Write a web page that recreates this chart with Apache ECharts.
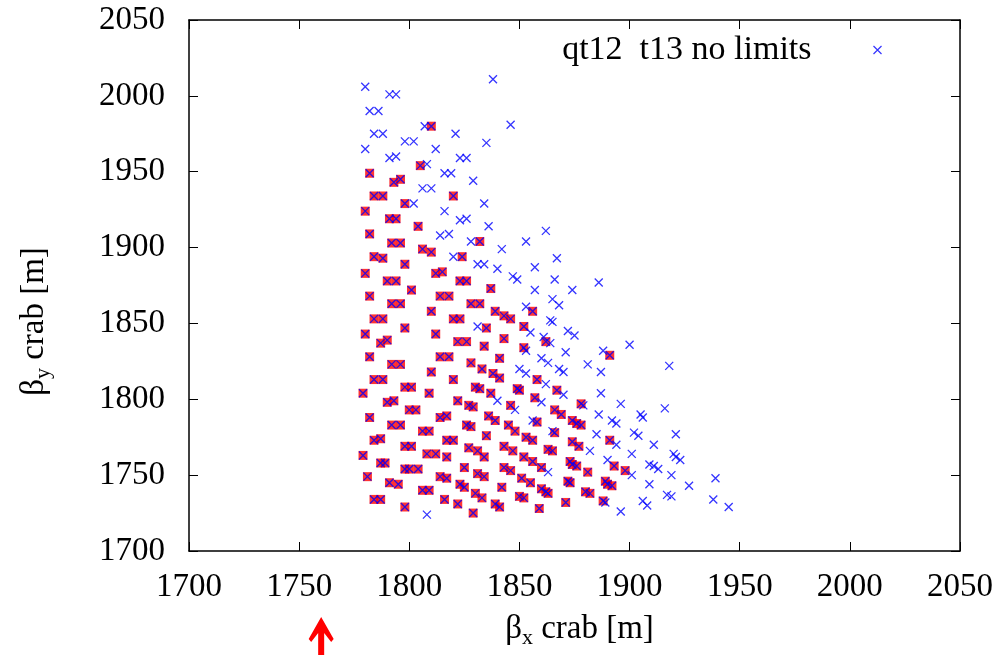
<!DOCTYPE html>
<html><head><meta charset="utf-8">
<script src="https://cdn.jsdelivr.net/npm/echarts@6/dist/echarts.min.js"></script>
<style>html,body{margin:0;padding:0;background:#fff}#c{width:1001px;height:655px}</style>
</head><body><div id="c"></div>
<script>
// points that also satisfy the limits (drawn red, underneath the blue crosses)
const limitedPoints = [[1810,1980],[1805,1954],[1782,1949],[1793,1943],[1796,1945],[1784,1934],[1788,1934],[1820,1934],[1798,1929],[1780,1924],[1791,1919],[1794,1919],[1804,1914],[1782,1909],[1792,1903],[1796,1903],[1832,1904],[1806,1899],[1810,1897],[1784,1894],[1788,1893],[1824,1894],[1798,1889],[1780,1883],[1812,1883],[1815,1884],[1790,1878],[1794,1878],[1823,1878],[1826,1878],[1801,1872],[1837,1873],[1782,1868],[1814,1868],[1818,1868],[1792,1863],[1796,1863],[1828,1863],[1832,1863],[1856,1858],[1810,1858],[1839,1858],[1843,1855],[1846,1853],[1784,1853],[1788,1853],[1820,1853],[1823,1853],[1798,1847],[1835,1847],[1852,1848],[1780,1843],[1812,1843],[1787,1837],[1790,1839],[1822,1838],[1826,1838],[1843,1840],[1862,1838],[1834,1835],[1852,1834],[1891,1829],[1782,1828],[1814,1828],[1818,1828],[1841,1827],[1792,1823],[1796,1823],[1828,1824],[1833,1820],[1810,1818],[1838,1817],[1841,1814],[1784,1813],[1788,1813],[1820,1813],[1858,1813],[1798,1808],[1801,1808],[1830,1808],[1832,1807],[1849,1807],[1850,1806],[1867,1806],[1779,1804],[1809,1804],[1837,1804],[1790,1798],[1793,1799],[1857,1801],[1822,1799],[1827,1796],[1829,1795],[1878,1797],[1800,1793],[1803,1793],[1846,1796],[1782,1788],[1814,1788],[1817,1789],[1836,1789],[1839,1786],[1858,1785],[1866,1793],[1869,1790],[1792,1783],[1796,1783],[1826,1783],[1828,1782],[1845,1783],[1848,1779],[1874,1786],[1876,1784],[1878,1783],[1806,1779],[1809,1779],[1835,1776],[1853,1775],[1856,1773],[1866,1778],[1784,1773],[1787,1774],[1817,1773],[1820,1773],[1874,1772],[1877,1769],[1891,1773],[1798,1769],[1801,1769],[1827,1768],[1843,1769],[1847,1766],[1863,1767],[1865,1766],[1779,1763],[1808,1764],[1812,1764],[1831,1766],[1834,1762],[1852,1762],[1856,1759],[1817,1762],[1873,1759],[1874,1757],[1876,1756],[1787,1758],[1789,1758],[1798,1754],[1800,1754],[1804,1754],[1825,1755],[1843,1755],[1846,1753],[1860,1755],[1893,1756],[1898,1753],[1881,1752],[1831,1751],[1834,1749],[1781,1749],[1814,1749],[1817,1748],[1851,1748],[1855,1745],[1872,1746],[1873,1745],[1889,1746],[1890,1744],[1892,1743],[1791,1745],[1795,1744],[1823,1744],[1825,1742],[1842,1742],[1860,1741],[1862,1739],[1863,1738],[1880,1739],[1882,1738],[1806,1740],[1809,1740],[1830,1738],[1833,1735],[1850,1736],[1852,1735],[1784,1734],[1787,1734],[1816,1734],[1839,1731],[1841,1729],[1822,1731],[1798,1729],[1859,1728],[1871,1732],[1888,1733],[1829,1725]];
// remaining points of the "no limits" scan
const otherPoints = [[1780,2006],[1791,2001],[1794,2001],[1782,1990],[1786,1990],[1838,2011],[1807,1980],[1846,1981],[1821,1975],[1784,1975],[1788,1975],[1798,1970],[1802,1970],[1835,1969],[1780,1965],[1812,1965],[1791,1959],[1794,1960],[1823,1959],[1826,1959],[1808,1955],[1816,1949],[1819,1949],[1829,1944],[1806,1939],[1810,1939],[1802,1929],[1834,1929],[1816,1924],[1823,1918],[1826,1919],[1836,1914],[1814,1908],[1818,1909],[1862,1911],[1828,1904],[1853,1904],[1842,1899],[1820,1894],[1867,1893],[1831,1889],[1834,1889],[1840,1886],[1857,1887],[1847,1881],[1849,1879],[1866,1879],[1886,1877],[1857,1872],[1874,1872],[1865,1866],[1868,1862],[1853,1861],[1864,1852],[1865,1851],[1831,1848],[1855,1844],[1872,1845],[1875,1842],[1861,1841],[1864,1837],[1900,1836],[1853,1832],[1888,1832],[1871,1831],[1860,1827],[1863,1824],[1881,1823],[1918,1822],[1868,1820],[1870,1818],[1887,1818],[1850,1820],[1853,1817],[1862,1810],[1870,1803],[1887,1804],[1840,1799],[1860,1798],[1879,1796],[1896,1797],[1916,1794],[1848,1793],[1856,1786],[1905,1790],[1906,1788],[1886,1790],[1892,1786],[1894,1784],[1865,1779],[1885,1777],[1902,1778],[1904,1776],[1921,1777],[1894,1770],[1911,1770],[1882,1766],[1901,1764],[1920,1764],[1921,1762],[1923,1760],[1890,1760],[1863,1752],[1901,1750],[1909,1757],[1911,1756],[1913,1754],[1919,1750],[1939,1748],[1909,1744],[1927,1743],[1917,1737],[1919,1736],[1889,1732],[1906,1733],[1908,1730],[1938,1734],[1945,1729],[1808,1724],[1896,1726]];
const seriesName = 'qt12  t13 no limits';
const axisMin = 1700, axisMax = 2050, axisStep = 50;
const arrowAt = 1760;

const FONT = '"Liberation Serif","Times New Roman","DejaVu Serif",serif';
const crossPath = 'path://M0,0L10,10M10,0L0,10';
const allPoints = limitedPoints.concat(otherPoints);

function frameAxis(pos, main, name, nameGap, namePad) {
  return {
    type: 'value', min: axisMin, max: axisMax, interval: axisStep, position: pos,
    axisLine: {show: true, onZero: false, lineStyle: {color: '#000', width: 1.5}},
    axisTick: {show: true, inside: true, length: 9, lineStyle: {color: '#000', width: 1}},
    axisLabel: {show: main, margin: (pos === 'bottom') ? 20 : 24, fontFamily: FONT, fontSize: 33, color: '#000',
                showMinLabel: true, showMaxLabel: true, formatter: v => String(v)},
    splitLine: {show: false},
    name: main ? name : '', nameLocation: 'middle', nameGap: nameGap,
    nameTextStyle: {
      padding: namePad || 0,
      rich: {
        b: {fontFamily: FONT, fontSize: 33, color: '#000', lineHeight: 40},
        s: {fontFamily: FONT, fontSize: 22, color: '#000', lineHeight: 22, verticalAlign: 'bottom'}
      }
    }
  };
}

const chart = echarts.init(document.getElementById('c'), null, {renderer: 'canvas'});
chart.setOption({
  animation: false,
  backgroundColor: '#fff',
  grid: {left: 189, right: 41, top: 20, bottom: 104},
  xAxis: [frameAxis('bottom', true, '{b|β}{s|x}{b| crab [m]}', 58, [0, 0, 0, 10]), frameAxis('top', false, '', 0)],
  yAxis: [frameAxis('left', true, '{b|β}{s|y}{b| crab [m]}', 135, [0, 72, 0, 0]), frameAxis('right', false, '', 0)],
  legend: {
    data: [{name: seriesName, icon: crossPath,
            itemStyle: {color: 'none', borderColor: '#0000ff', borderWidth: 1.2}}],
    right: 112, top: 28, align: 'right', itemWidth: 122, itemHeight: 8,
    textStyle: {fontFamily: FONT, fontSize: 34, color: '#000'}
  },
  series: [
    {type: 'scatter', name: 'limits', data: limitedPoints, symbol: 'rect', symbolSize: 9,
     itemStyle: {color: '#ff0000'}, silent: true, z: 2},
    {type: 'scatter', name: seriesName, data: allPoints, symbol: crossPath, symbolSize: 8,
     itemStyle: {color: 'none', borderColor: '#0000ff', borderWidth: 1.3}, z: 3}
  ]
});

const ax = chart.convertToPixel({xAxisIndex: 0}, arrowAt);
const arrowShape = [[0,0],[12.5,22],[10,25],[3,16],[3,39],[-3,39],[-3,16],[-10,25],[-12.5,22]];
chart.setOption({
  graphic: [{type: 'polygon', shape: {points: arrowShape.map(p => [ax + p[0], 617 + p[1]])},
             style: {fill: '#ff0000'}, silent: true}]
});
</script></body></html>
